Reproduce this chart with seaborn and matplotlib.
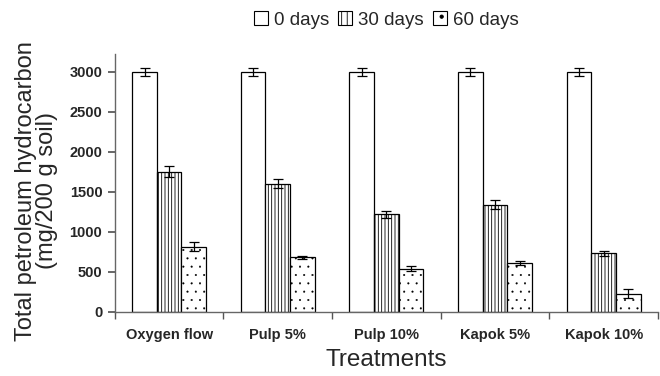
import matplotlib
matplotlib.use("Agg")
import matplotlib.pyplot as plt
import seaborn as sns
import pandas as pd
import numpy as np
from matplotlib.patches import Patch

treatments = ["Oxygen flow", "Pulp 5%", "Pulp 10%", "Kapok 5%", "Kapok 10%"]
series = ["0 days", "30 days", "60 days"]
day0 = [3000, 3000, 3000, 3000, 3000]
day30 = [1750, 1600, 1220, 1340, 730]
day60 = [815, 680, 540, 605, 225]
err0 = [50, 50, 50, 50, 50]
err30 = [70, 55, 45, 55, 35]
err60 = [62, 18, 30, 25, 58]
yticks = [0, 500, 1000, 1500, 2000, 2500, 3000]

sns.set_theme(style="white")
plt.rcParams["font.family"] = ["Liberation Sans", "DejaVu Sans"]
plt.rcParams["hatch.linewidth"] = 0.6
plt.rcParams["hatch.color"] = "black"

rows = []
for s, vals, errs in zip(series, [day0, day30, day60], [err0, err30, err60]):
    for t, v, e in zip(treatments, vals, errs):
        rows.append({"Treatment": t, "Series": s, "Value": v, "Err": e})
df = pd.DataFrame(rows)

fig = plt.figure(figsize=(6.6, 3.76), dpi=100)
ax = fig.add_axes([0.174, 0.171, 0.823, 0.685])

sns.barplot(data=df, x="Treatment", y="Value", hue="Series", order=treatments,
            hue_order=series, palette=["white", "white", "white"],
            edgecolor="black", linewidth=0.9, width=0.68, gap=0, errorbar=None,
            ax=ax, legend=False)

hatches = ["", "|||||", ".."]
hatch_lw = [0.6, 0.6, 0.25]
n = len(treatments)
bars = ax.patches
for i, s in enumerate(series):
    for j, t in enumerate(treatments):
        b = bars[i * n + j]
        b.set_hatch(hatches[i])
        if hasattr(b, "set_hatch_linewidth"):
            b.set_hatch_linewidth(hatch_lw[i])
        row = df[(df.Series == s) & (df.Treatment == t)].iloc[0]
        ax.errorbar(b.get_x() + b.get_width() / 2, row.Value, yerr=row.Err,
                    fmt="none", ecolor="black", elinewidth=0.9, capsize=3.5,
                    capthick=0.9, zorder=5)

ax.set_ylim(0, 3220)
ax.set_xlim(-0.5, n - 0.5)
ax.set_yticks(yticks)
ax.set_yticklabels([str(v) for v in yticks], fontsize=10.5, fontweight="bold")
ax.set_xticks(range(n))
ax.set_xticklabels(treatments, fontsize=10.5, fontweight="bold")
ax.set_xticks(np.arange(-0.5, n, 1), minor=True)
ax.tick_params(axis="x", which="major", length=0, pad=12)
ax.tick_params(axis="x", which="minor", length=5, direction="out", color="#555555", bottom=True)
ax.tick_params(axis="y", length=5, direction="out", color="#555555", left=True, pad=4)

for sp in ["top", "right"]:
    ax.spines[sp].set_visible(False)
for sp in ["left", "bottom"]:
    ax.spines[sp].set_color("#666666")
    ax.spines[sp].set_linewidth(1.0)

ax.set_xlabel("Treatments", fontsize=17.5, labelpad=5)
ax.set_ylabel("Total petroleum hydrocarbon\n(mg/200 g soil)", fontsize=17, linespacing=0.95)
ax.yaxis.set_label_coords(-0.105, 0.47)

leg_handles = []
for h in ["", "|||", "."]:
    p = Patch(facecolor="white", edgecolor="black", hatch=h, linewidth=0.8)
    if h == "." and hasattr(p, "set_hatch_linewidth"):
        p.set_hatch_linewidth(0.3)
    leg_handles.append(p)
fig.legend(leg_handles, series, loc="center", bbox_to_anchor=(0.585, 0.947), ncol=3,
           frameon=False, fontsize=13.5, handlelength=0.75, handleheight=0.75,
           handletextpad=0.3, columnspacing=0.5)

fig.savefig("out.png", dpi=100)
